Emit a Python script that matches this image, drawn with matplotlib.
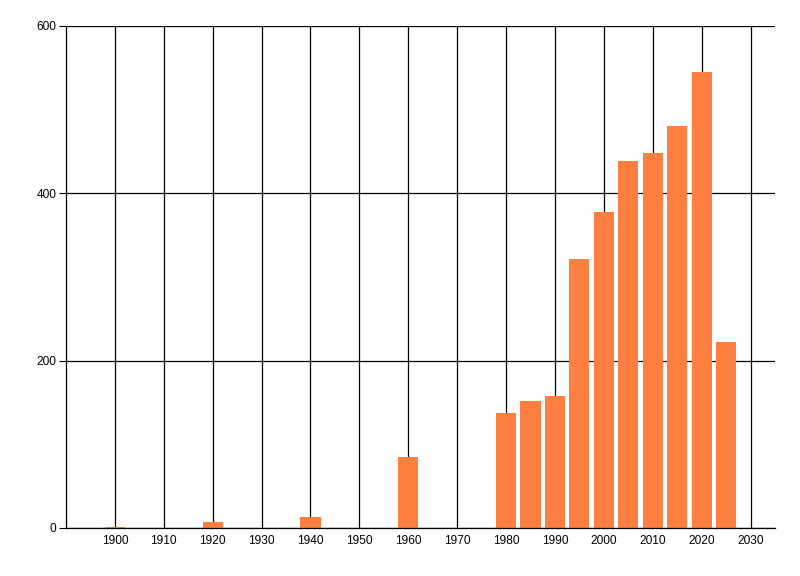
import matplotlib
matplotlib.use('Agg')
import matplotlib.pyplot as plt

# Années et valeurs
years = [1900, 1920, 1940, 1960, 1980, 1985, 1990, 1995, 2000, 2005, 2010, 2015, 2020, 2025]
values = [1, 7, 13, 85, 138, 152, 158, 321, 378, 439, 448, 480, 545, 222]

x_ticks = list(range(1900, 2031, 10))
y_ticks = [0, 200, 400, 600]

plt.rcParams['font.family'] = ['Liberation Sans', 'DejaVu Sans']

fig = plt.figure(figsize=(8, 5.76), dpi=100)
ax = fig.add_axes([66/800, 1 - 528/576, (775 - 66)/800, (528 - 26)/576])

ax.bar(years, values, width=4.1, color='#ff7f40', zorder=3)

ax.set_xlim(1890, 2035)
ax.set_ylim(0, 600)
ax.set_xticks(x_ticks)
ax.set_yticks(y_ticks)
ax.tick_params(axis='x', length=0, pad=5, labelsize=8.6)
ax.tick_params(axis='y', length=5, width=0.8, pad=2, labelsize=8.6)

# grille noire, pas de bord droit ni haut
ax.grid(True, color='black', linewidth=0.9, zorder=1)
ax.set_axisbelow(True)
for side in ['top', 'right']:
    ax.spines[side].set_visible(False)
ax.spines['left'].set_linewidth(0.9)
ax.spines['bottom'].set_linewidth(0.9)
ax.spines['bottom'].set_zorder(4)

fig.savefig('out.png', dpi=100)
